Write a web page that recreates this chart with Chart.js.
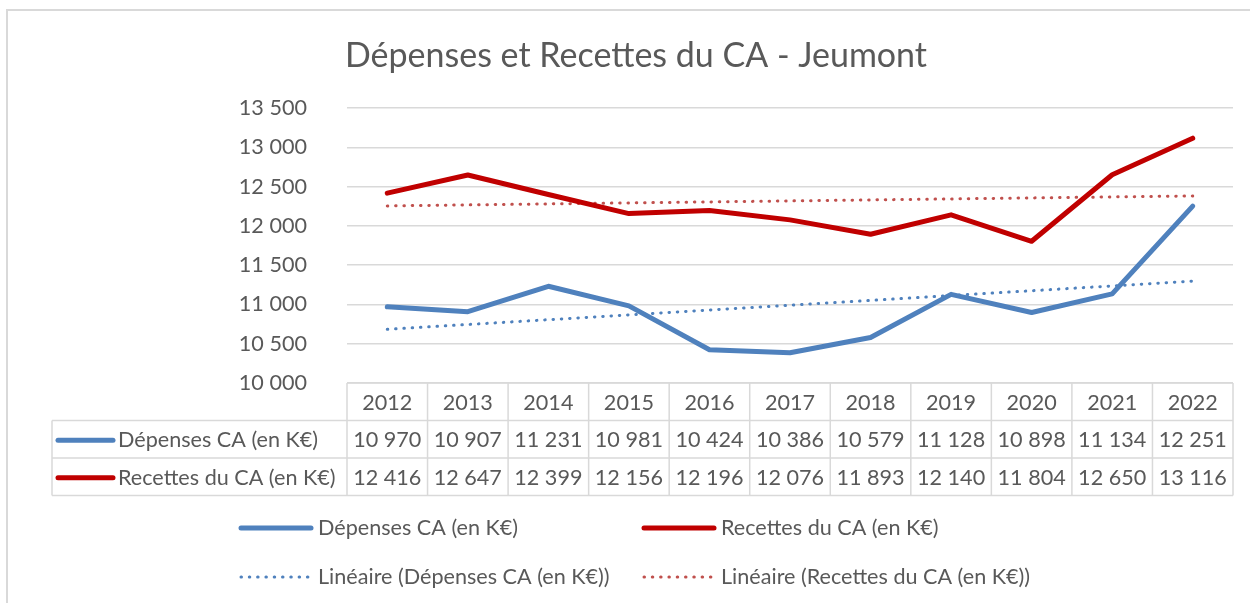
<!DOCTYPE html>
<html lang="fr">
<head>
    <meta charset="UTF-8">
    <title>Dépenses et Recettes du CA - Jeumont</title>
    <style>
        body {
            margin: 0;
            padding: 0;
            background: #fff;
        }
        #wrap {
            width: 1250px;
            height: 603px;
        }
    </style>
    <script src="https://cdn.jsdelivr.net/npm/chart.js@4.4.1/dist/chart.umd.min.js"></script>
</head>
<body>
<div id="wrap">
    <canvas id="chart" width="1250" height="603"></canvas>
</div>
<script>
    const years = ['2012', '2013', '2014', '2015', '2016', '2017', '2018', '2019', '2020', '2021', '2022'];
    const depenses = [10970, 10907, 11231, 10981, 10424, 10386, 10579, 11128, 10898, 11134, 12251];
    const recettes = [12416, 12647, 12399, 12156, 12196, 12076, 11893, 12140, 11804, 12650, 13116];
    // trend lines, start / end values
    const trendDepenses = [10683, 11297];
    const trendRecettes = [12254, 12381];
    const yMin = 10000, yMax = 13500, yStep = 500;

    const title = 'Dépenses et Recettes du CA - Jeumont';
    const nameDep = 'Dépenses CA (en K€)';
    const nameRec = 'Recettes du CA (en K€)';

    const BLUE = '#4f81bd';
    const RED = '#c00000';
    const RED_TREND = '#c0504d';
    const TEXT = '#595959';
    const GRID = '#d9d9d9';
    const FONT = 'Lato, "Open Sans", sans-serif';
    const TXT_SIZE = 21.6;

    function fmt(v) {
        return String(v).replace(/\B(?=(\d{3})+(?!\d))/g, ' ');
    }

    function keyLine(ctx, x1, x2, y, color, dotted) {
        ctx.save();
        ctx.strokeStyle = color;
        ctx.lineCap = 'round';
        if (dotted) {
            ctx.lineWidth = 3;
            ctx.setLineDash([0.5, 7.8]);
        } else {
            ctx.lineWidth = 5;
        }
        ctx.beginPath();
        ctx.moveTo(x1, y);
        ctx.lineTo(x2, y);
        ctx.stroke();
        ctx.restore();
    }

    const decor = {
        id: 'decor',
        beforeDraw(chart) {
            const ctx = chart.ctx;
            ctx.save();
            ctx.fillStyle = '#fff';
            ctx.fillRect(0, 0, chart.width, chart.height);
            ctx.strokeStyle = GRID;
            ctx.lineWidth = 2;
            ctx.strokeRect(7, 10, chart.width + 20, chart.height + 20);
            ctx.restore();
        },
        afterDraw(chart) {
            const ctx = chart.ctx;
            const x = chart.scales.x;
            const area = chart.chartArea;
            const step = x.getPixelForValue(1) - x.getPixelForValue(0);
            const left = x.getPixelForValue(0) - step / 2;
            const right = left + step * years.length;
            const rowH = 37.5;
            const top = area.bottom;
            const labelLeft = 52;

            ctx.save();
            // title
            ctx.fillStyle = TEXT;
            ctx.font = '34px ' + FONT;
            ctx.textAlign = 'center';
            ctx.textBaseline = 'alphabetic';
            ctx.fillText(title, 636, 67);

            // data table grid
            ctx.strokeStyle = GRID;
            ctx.lineWidth = 1.5;
            ctx.beginPath();
            ctx.moveTo(left, top);
            ctx.lineTo(right, top);
            for (let r = 1; r <= 3; r++) {
                ctx.moveTo(labelLeft, top + rowH * r);
                ctx.lineTo(right, top + rowH * r);
            }
            for (let i = 0; i <= years.length; i++) {
                ctx.moveTo(left + step * i, top);
                ctx.lineTo(left + step * i, top + rowH * 3);
            }
            ctx.moveTo(labelLeft, top + rowH);
            ctx.lineTo(labelLeft, top + rowH * 3);
            ctx.stroke();

            // table text
            ctx.font = TXT_SIZE + 'px ' + FONT;
            ctx.fillStyle = TEXT;
            ctx.textAlign = 'center';
            ctx.textBaseline = 'middle';
            const rows = [years, depenses.map(fmt), recettes.map(fmt)];
            rows.forEach((row, r) => {
                const cy = top + rowH * r + rowH / 2 + 1;
                row.forEach((t, i) => {
                    ctx.fillText(t, x.getPixelForValue(i), cy);
                });
            });
            ctx.textAlign = 'left';
            const y1 = top + rowH * 1.5 + 1;
            const y2 = top + rowH * 2.5 + 1;
            keyLine(ctx, 58, 113, y1, BLUE, false);
            keyLine(ctx, 58, 113, y2, RED, false);
            ctx.fillText(nameDep, 118, y1);
            ctx.fillText(nameRec, 118, y2);

            // legend
            const l1 = 528, l2 = 577;
            keyLine(ctx, 241, 311, l1, BLUE, false);
            keyLine(ctx, 241, 311, l2, BLUE, true);
            keyLine(ctx, 644, 714, l1, RED, false);
            keyLine(ctx, 644, 714, l2, RED_TREND, true);
            ctx.fillText(nameDep, 318, l1);
            ctx.fillText('Linéaire (' + nameDep + ')', 318, l2);
            ctx.fillText(nameRec, 721, l1);
            ctx.fillText('Linéaire (' + nameRec + ')', 721, l2);
            ctx.restore();
        }
    };

    const datasets = [
        {
            label: nameDep,
            data: depenses,
            borderColor: BLUE,
            borderWidth: 5,
            borderCapStyle: 'round',
            borderJoinStyle: 'round',
            pointRadius: 0,
            tension: 0
        },
        {
            label: nameRec,
            data: recettes,
            borderColor: RED,
            borderWidth: 5,
            borderCapStyle: 'round',
            borderJoinStyle: 'round',
            pointRadius: 0,
            tension: 0
        },
        {
            label: 'Linéaire (' + nameDep + ')',
            data: [{ x: years[0], y: trendDepenses[0] }, { x: years[years.length - 1], y: trendDepenses[1] }],
            borderColor: BLUE,
            borderWidth: 3,
            borderCapStyle: 'round',
            borderDash: [0.5, 7.8],
            pointRadius: 0
        },
        {
            label: 'Linéaire (' + nameRec + ')',
            data: [{ x: years[0], y: trendRecettes[0] }, { x: years[years.length - 1], y: trendRecettes[1] }],
            borderColor: RED_TREND,
            borderWidth: 3,
            borderCapStyle: 'round',
            borderDash: [0.5, 7.8],
            pointRadius: 0
        }
    ];

    new Chart(document.getElementById('chart'), {
        type: 'line',
        data: { labels: years, datasets: datasets },
        options: {
            responsive: false,
            animation: false,
            layout: { padding: { top: 108, right: 17, bottom: 220, left: 0 } },
            plugins: {
                legend: { display: false },
                title: { display: false },
                tooltip: { enabled: false }
            },
            scales: {
                x: {
                    display: false,
                    offset: true
                },
                y: {
                    min: yMin,
                    max: yMax,
                    afterFit(scale) { scale.width = 347; },
                    border: { display: false },
                    grid: { color: GRID, lineWidth: 1.5, drawTicks: false },
                    ticks: {
                        stepSize: yStep,
                        padding: 40,
                        color: TEXT,
                        font: { family: FONT, size: TXT_SIZE },
                        callback: v => fmt(v)
                    }
                }
            }
        },
        plugins: [decor]
    });
</script>
</body>
</html>
